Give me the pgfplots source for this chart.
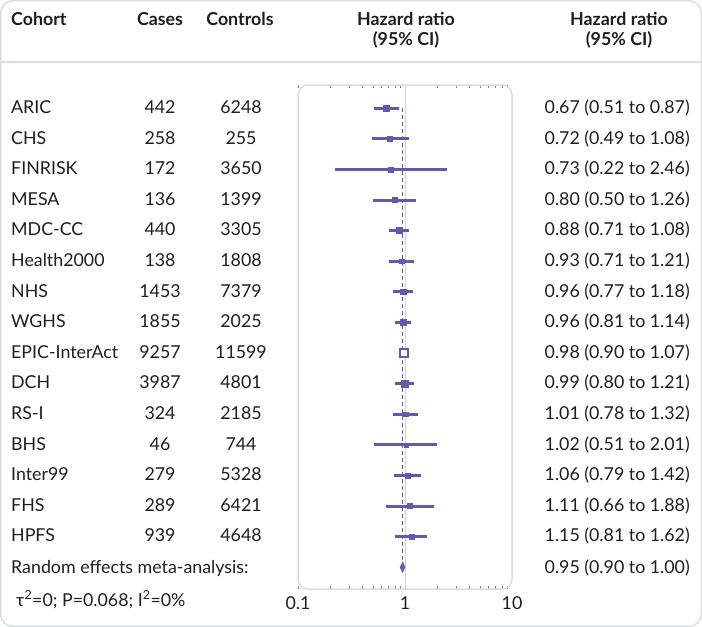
\documentclass[border=0pt]{standalone}
\usepackage{fontspec}
\setmainfont{Lato}
\usepackage{pgfplots}
\pgfplotsset{compat=1.18}
\usepackage{pgfplotstable}

\definecolor{hrpurple}{RGB}{104,88,172}
\definecolor{framegray}{RGB}{218,220,226}
\definecolor{refgray}{RGB}{208,208,224}
\definecolor{txt}{RGB}{30,30,30}

% row (y = -index), hazard ratio, square half-size (bp); EPIC-InterAct drawn apart
\pgfplotstableread{
y   hr   s
0   0.67 3.0
-1  0.72 2.4
-2  0.73 2.4
-3  0.80 2.4
-4  0.88 3.0
-5  0.93 2.4
-6  0.96 2.6
-7  0.96 3.0
-9  0.99 3.2
-10 1.01 2.4
-11 1.02 2.0
-12 1.06 2.6
-13 1.11 2.4
-14 1.15 2.6
}\forestdata

\newcommand{\rowfont}{\fontsize{17.8bp}{21bp}\selectfont}

\begin{document}
\begin{tikzpicture}[x=1bp,y=1bp]
\useasboundingbox (0,0) rectangle (702,-627);

% outer frame and header rule
\draw[framegray, line width=1.5bp, rounded corners=12bp] (0.75,-0.75) rectangle (701.25,-626.25);
\draw[framegray, line width=1.5bp] (0.75,-62) -- (701.25,-62);

% header
\begin{scope}[every node/.style={text=txt, font=\rowfont\bfseries, inner sep=0pt}]
  \node[anchor=base west] at (11,-26) {Cohort};
  \node[anchor=base] at (160,-26) {Cases};
  \node[anchor=base] at (240,-26) {Controls};
  \node[anchor=base] at (406,-26) {Hazard ratio};
  \node[anchor=base] at (406,-46) {(95\% CI)};
  \node[anchor=base] at (619,-26) {Hazard ratio};
  \node[anchor=base] at (619,-46) {(95\% CI)};
\end{scope}

% table columns
\begin{scope}[every node/.style={text=txt, font=\rowfont, inner sep=0pt}]
  \foreach \i/\n/\ca/\co/\h in {
    0/ARIC/442/6248/{0.67 (0.51 to 0.87)},
    1/CHS/258/255/{0.72 (0.49 to 1.08)},
    2/FINRISK/172/3650/{0.73 (0.22 to 2.46)},
    3/MESA/136/1399/{0.80 (0.50 to 1.26)},
    4/MDC-CC/440/3305/{0.88 (0.71 to 1.08)},
    5/Health2000/138/1808/{0.93 (0.71 to 1.21)},
    6/NHS/1453/7379/{0.96 (0.77 to 1.18)},
    7/WGHS/1855/2025/{0.96 (0.81 to 1.14)},
    8/EPIC-InterAct/9257/11599/{0.98 (0.90 to 1.07)},
    9/DCH/3987/4801/{0.99 (0.80 to 1.21)},
    10/RS-I/324/2185/{1.01 (0.78 to 1.32)},
    11/BHS/46/744/{1.02 (0.51 to 2.01)},
    12/Inter99/279/5328/{1.06 (0.79 to 1.42)},
    13/FHS/289/6421/{1.11 (0.66 to 1.88)},
    14/HPFS/939/4648/{1.15 (0.81 to 1.62)}} {
    \pgfmathsetmacro{\yb}{-(113.5+30.6*\i)}
    \node[anchor=base west] at (11,\yb) {\n};
    \node[anchor=base] at (160,\yb) {\ca};
    \node[anchor=base] at (241,\yb) {\co};
    \node[anchor=base east] at (690,\yb) {\h};
  }
  \node[anchor=base west] at (11,-573) {Random effects meta-analysis:};
  \node[anchor=base east] at (690,-573) {0.95 (0.90 to 1.00)};
  \node[anchor=base west] at (16,-606) {τ\textsuperscript{2}=0; P=0.068; I\textsuperscript{2}=0\%};
\end{scope}

\begin{axis}[
    at={(298bp,-589bp)}, anchor=south west,
    scale only axis,
    width=214bp, height=504bp,
    xmode=log,
    xmin=0.1, xmax=10,
    ymin=-15.71, ymax=0.76,
    axis line style={draw=none},
    ytick=\empty,
    xtick={0.1,1,10},
    xticklabels={0.1,1,10},
    major tick length=0pt,
    xticklabel style={font=\rowfont, text=txt, anchor=center, yshift=-14bp},
    clip=false,
  ]

  % plot frame and line of no effect
  \draw[framegray, line width=1.5bp, rounded corners=10bp]
    (rel axis cs:0,0) rectangle (rel axis cs:1,1);
  \addplot[refgray, line width=1bp] coordinates {(1,0.76) (1,-15.71)};

  % pooled estimate (dashed)
  \addplot[hrpurple, line width=1.5bp, dash pattern=on 4bp off 3bp]
    coordinates {(0.95,0) (0.95,-15)};

  % confidence intervals
  \addplot[hrpurple, line width=3bp] coordinates {(0.51,0) (0.87,0)};
  \addplot[hrpurple, line width=3bp] coordinates {(0.49,-1) (1.08,-1)};
  \addplot[hrpurple, line width=3bp] coordinates {(0.22,-2) (2.46,-2)};
  \addplot[hrpurple, line width=3bp] coordinates {(0.50,-3) (1.26,-3)};
  \addplot[hrpurple, line width=3bp] coordinates {(0.71,-4) (1.08,-4)};
  \addplot[hrpurple, line width=3bp] coordinates {(0.71,-5) (1.21,-5)};
  \addplot[hrpurple, line width=3bp] coordinates {(0.77,-6) (1.18,-6)};
  \addplot[hrpurple, line width=3bp] coordinates {(0.81,-7) (1.14,-7)};
  \addplot[hrpurple, line width=3bp] coordinates {(0.90,-8) (1.07,-8)};
  \addplot[hrpurple, line width=3bp] coordinates {(0.80,-9) (1.21,-9)};
  \addplot[hrpurple, line width=3bp] coordinates {(0.78,-10) (1.32,-10)};
  \addplot[hrpurple, line width=3bp] coordinates {(0.51,-11) (2.01,-11)};
  \addplot[hrpurple, line width=3bp] coordinates {(0.79,-12) (1.42,-12)};
  \addplot[hrpurple, line width=3bp] coordinates {(0.66,-13) (1.88,-13)};
  \addplot[hrpurple, line width=3bp] coordinates {(0.81,-14) (1.62,-14)};

  % point estimates, sized by weight
  \addplot[
    scatter, only marks, mark=square*,
    scatter/use mapped color={draw=hrpurple, fill=hrpurple},
    visualization depends on={\thisrow{s} \as \msz},
    scatter/@pre marker code/.append style={/tikz/mark size=\msz bp},
  ] table[x=hr, y=y] {\forestdata};

  % largest-weight study: square wider than its CI, CI shown in white
  \addplot[only marks, mark=square*, mark size=4.3bp,
    mark options={draw=hrpurple, fill=white, line width=2bp}]
    coordinates {(0.98,-8)};

  % meta-analysis diamond
  \addplot[draw=hrpurple, fill=hrpurple, line width=0.5bp]
    coordinates {(0.90,-15) (0.95,-14.83) (1.00,-15) (0.95,-15.17) (0.90,-15)};

\end{axis}
\end{tikzpicture}
\end{document}
